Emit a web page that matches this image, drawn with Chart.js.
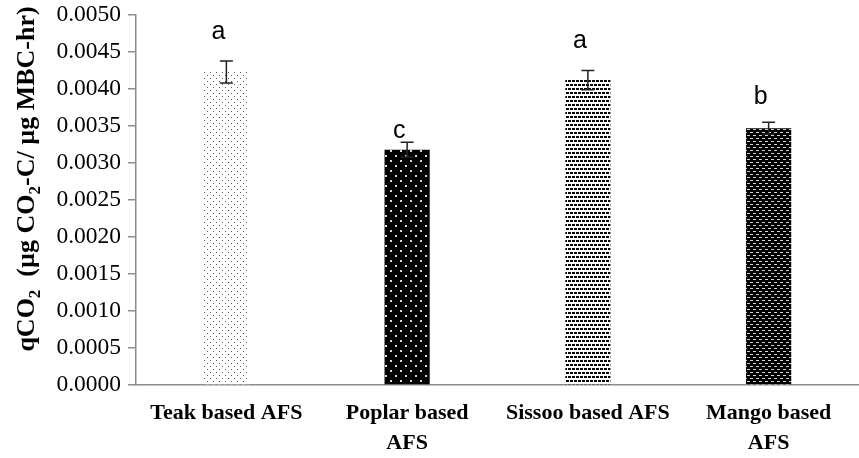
<!DOCTYPE html>
<html>
<head>
<meta charset="utf-8">
<script src="https://cdn.jsdelivr.net/npm/chart.js@4.4.1/dist/chart.umd.min.js"></script>
<style>
  html, body { margin: 0; padding: 0; background: #fff; }
  #wrap { width: 859px; height: 458px; position: relative; }
</style>
</head>
<body>
<div id="wrap"><canvas id="qco2Chart"></canvas></div>
<script>
// data
const categories = [['Teak based AFS'], ['Poplar based', 'AFS'], ['Sissoo based AFS'], ['Mango based', 'AFS']];
const qco2Values = [0.00423, 0.00318, 0.00412, 0.00347];
const qco2Errors = [0.00015, 0.00010, 0.00013, 0.00008];
const groupLetters = ['a', 'c', 'a', 'b'];
const letterLevels = [0.00468, 0.00334, 0.00455, 0.00380];
const yTicks = [0, 0.0005, 0.001, 0.0015, 0.002, 0.0025, 0.003, 0.0035, 0.004, 0.0045, 0.005];

function makePattern(bg, fg, cell, dots) {
    const c = document.createElement('canvas');
    c.width = cell[0];
    c.height = cell[1];
    const g = c.getContext('2d');
    g.fillStyle = bg;
    g.fillRect(0, 0, c.width, c.height);
    g.fillStyle = fg;
    dots.forEach(d => g.fillRect(d[0], d[1], d[2], d[3]));
    return g.createPattern(c, 'repeat');
}

const ctx = document.getElementById('qco2Chart').getContext('2d');

const patterns = [
    makePattern('#ffffff', '#5a5a5a', [6, 6], [[0, 0, 1, 1], [3, 3, 1, 1]]),
    makePattern('#000000', '#d8d8d8', [10, 10], [[0, 0, 2, 2], [5, 5, 2, 2]]),
    makePattern('#ffffff', '#000000', [8, 8], [[0, 0, 3, 2], [4, 0, 3, 2], [2, 4, 3, 2], [6, 4, 2, 2], [0, 4, 1, 2]]),
    makePattern('#000000', '#d0d0d0', [6, 6], [[0, 0, 3, 1], [3, 3, 3, 1]])
];

const errorBars = {
    id: 'errorBars',
    afterDatasetsDraw(chart) {
        const y = chart.scales.y;
        const meta = chart.getDatasetMeta(0);
        const c = chart.ctx;
        c.save();
        c.strokeStyle = '#222';
        c.lineWidth = 1.5;
        meta.data.forEach((bar, i) => {
            const top = y.getPixelForValue(qco2Values[i] + qco2Errors[i]);
            const bot = y.getPixelForValue(qco2Values[i] - qco2Errors[i]);
            c.beginPath();
            c.moveTo(bar.x, top); c.lineTo(bar.x, bot);
            c.moveTo(bar.x - 6.5, top); c.lineTo(bar.x + 6.5, top);
            c.moveTo(bar.x - 6.5, bot); c.lineTo(bar.x + 6.5, bot);
            c.stroke();
        });
        // significance letters
        c.fillStyle = '#000';
        c.font = '25px "Liberation Sans", Arial, sans-serif';
        c.textAlign = 'center';
        c.textBaseline = 'alphabetic';
        meta.data.forEach((bar, i) => {
            c.fillText(groupLetters[i], bar.x - 8, y.getPixelForValue(letterLevels[i]));
        });
        c.restore();
    }
};

// rotated y title with subscripts
const yTitle = {
    id: 'yTitle',
    afterDraw(chart) {
        const c = chart.ctx;
        const parts = [['q', 0], ['CO', 0], ['2', 1], ['  (\u00b5g CO', 0], ['2', 1], ['-C/ \u00b5g MBC-hr)', 0]];
        const big = 'bold 26px "Liberation Serif", "Times New Roman", serif';
        const small = 'bold 17px "Liberation Serif", "Times New Roman", serif';
        c.save();
        let total = 0;
        parts.forEach(p => { c.font = p[1] ? small : big; total += c.measureText(p[0]).width; });
        c.translate(34, 179);
        c.rotate(-Math.PI / 2);
        c.fillStyle = '#000';
        c.textBaseline = 'alphabetic';
        let x = -total / 2;
        parts.forEach(p => {
            c.font = p[1] ? small : big;
            c.fillText(p[0], x, p[1] ? 6 : 0);
            x += c.measureText(p[0]).width;
        });
        c.restore();
    }
};

new Chart(ctx, {
    type: 'bar',
    data: {
        labels: categories,
        datasets: [{
            data: qco2Values,
            backgroundColor: patterns,
            borderWidth: 0,
            barPercentage: 0.5,
            categoryPercentage: 0.5
        }]
    },
    options: {
        responsive: true,
        maintainAspectRatio: false,
        animation: false,
        layout: { padding: { top: 15, right: 0, left: 0, bottom: 0 } },
        plugins: {
            legend: { display: false },
            tooltip: { enabled: false }
        },
        scales: {
            x: {
                grid: { display: false, drawTicks: false },
                border: { color: '#8c8c8c', width: 1.5 },
                ticks: {
                    color: '#000',
                    padding: 13,
                    font: { family: '"Liberation Serif", "Times New Roman", serif', size: 22, weight: 'bold', lineHeight: 1.36 },
                    maxRotation: 0,
                    autoSkip: false
                },
                afterFit(scale) { scale.height = 73; }
            },
            y: {
                min: 0,
                max: 0.005,
                afterBuildTicks(scale) { scale.ticks = yTicks.map(v => ({ value: v })); },
                grid: { drawOnChartArea: false, drawTicks: true, tickLength: 8, color: '#8c8c8c', lineWidth: 1.5 },
                border: { color: '#8c8c8c', width: 1.5 },
                ticks: {
                    color: '#000',
                    padding: 7,
                    font: { family: '"Liberation Serif", "Times New Roman", serif', size: 23.5 },
                    callback: v => v.toFixed(4)
                },
                afterFit(scale) {
                    scale.width = 136;
                    scale.paddingTop = 0;
                    scale.paddingBottom = 0;
                }
            }
        }
    },
    plugins: [errorBars, yTitle]
});
</script>
</body>
</html>
